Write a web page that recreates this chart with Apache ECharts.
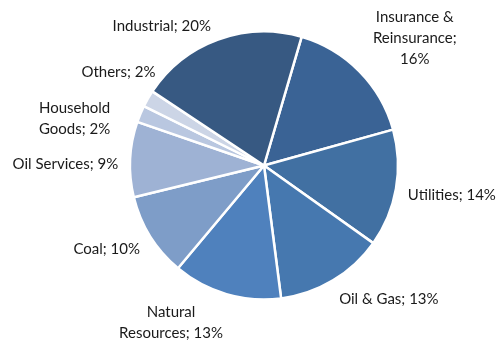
<!DOCTYPE html>
<html>
<head>
<meta charset="utf-8">
<script src="https://cdn.jsdelivr.net/npm/echarts@6/dist/echarts.min.js"></script>
<style>html,body{margin:0;padding:0;background:#fff}#c{width:497px;height:340px}</style>
</head>
<body>
<div id="c"></div>
<script>
const categories = ['Insurance &\nReinsurance', 'Utilities', 'Oil & Gas', 'Natural\nResources', 'Coal', 'Oil Services', 'Household\nGoods', 'Others', 'Industrial'];
const values = [16, 14, 13, 13, 10, 9, 2, 2, 20];
const breakBeforePct = [true, false, false, false, false, false, false, false, false];
const colors = ['#3a6395', '#4170a2', '#4678af', '#4f81bd', '#7e9dc8', '#9eb2d4', '#b9c7e0', '#ccd5e6', '#375982'];
const labelNudge = [[5,3],[0,0],[0,2],[0,0],[0,0],[0,7],[-19,26],[18,-14],[-3,4]];

const CX = 264, CY = 165.5, R = 134, START = 73.7, GAP = 12;
const FONT = 'Lato', FS = 15, LH = 21;
const total = values.reduce((a, b) => a + b, 0);
const mids = [];
let acc = 0;
values.forEach(v => { mids.push((90 - START) + (acc + v / 2) / total * 360); acc += v; });
const clamp = x => Math.max(-1, Math.min(1, x));
const labelText = i => categories[i] + ';' + (breakBeforePct[i] ? '\n' : ' ') + values[i] + '%';
const ctx = document.createElement('canvas').getContext('2d');
ctx.font = FS + 'px ' + FONT;
const measure = t => { const ls = t.split('\n'); return {w: Math.max(...ls.map(l => ctx.measureText(l).width)), h: ls.length * LH - 8}; };

const chart = echarts.init(document.getElementById('c'), null, {renderer: 'canvas'});
chart.setOption({
  animation: false,
  series: [{
    type: 'pie',
    center: [CX, CY],
    radius: R,
    startAngle: START,
    clockwise: true,
    avoidLabelOverlap: false,
    minShowLabelAngle: 0,
    itemStyle: {borderColor: '#fff', borderWidth: 2.5},
    label: {
      show: true, position: 'outside', color: '#1a1a1a',
      fontFamily: FONT, fontSize: FS, lineHeight: LH,
      overflow: 'none', width: 300,
      formatter: p => labelText(p.dataIndex)
    },
    labelLine: {show: false},
    emphasis: {disabled: true},
    data: categories.map((c, i) => ({name: c, value: values[i], itemStyle: {color: colors[i]}})),
    labelLayout: function (p) {
      const i = p.dataIndex;
      const th = mids[i] * Math.PI / 180;
      const s = Math.sin(th), c = Math.cos(th);
      const px = CX + (R + GAP) * s, py = CY - (R + GAP) * c;
      const m = measure(labelText(i));
      const x = px + m.w / 2 * clamp(4 * s) + labelNudge[i][0];
      const y = py - m.h / 2 * clamp(4 * c) + labelNudge[i][1];
      return {x: x, y: y, align: 'center', verticalAlign: 'middle'};
    }
  }]
});
</script>
</body>
</html>
